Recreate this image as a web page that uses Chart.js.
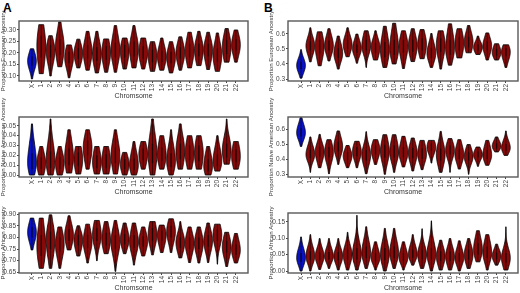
<!DOCTYPE html>
<html>
<head>
<meta charset="utf-8">
<script src="https://cdn.jsdelivr.net/npm/chart.js"></script>
<style>
  body { margin: 0; width: 520px; height: 293px; background: #fff; position: relative; overflow: hidden;
         font-family: "Liberation Sans", Arial, sans-serif; }
  canvas { position: absolute; }
  .tag { position: absolute; font-weight: bold; font-size: 12px; line-height: 12px; }
</style>
</head>
<body>
<div class="tag" style="left:3px;top:2px">A</div>
<div class="tag" style="left:264px;top:2px">B</div>
<canvas id="aEur" width="260" height="101" style="left:0;top:0"></canvas>
<canvas id="aNat" width="260" height="101" style="left:0;top:96px"></canvas>
<canvas id="aAfr" width="260" height="101" style="left:0;top:192px"></canvas>
<canvas id="bEur" width="260" height="101" style="left:260px;top:0"></canvas>
<canvas id="bNat" width="260" height="101" style="left:260px;top:96px"></canvas>
<canvas id="bAfr" width="260" height="101" style="left:260px;top:192px"></canvas>
<script>
// chromosome categories
const chromosomes = ['X', '1', '2', '3', '4', '5', '6', '7', '8', '9', '10', '11',
  '12', '13', '14', '15', '16', '17', '18', '19', '20', '21', '22'];

// y tick values per panel
const ticksEurA = [0.10, 0.15, 0.20, 0.25, 0.30];
const ticksNatA = [0.00, 0.01, 0.02, 0.03, 0.04, 0.05];
const ticksAfrA = [0.65, 0.70, 0.75, 0.80, 0.85, 0.90];
const ticksEurB = [0.3, 0.4, 0.5, 0.6];
const ticksNatB = [0.3, 0.4, 0.5, 0.6];
const ticksAfrB = [0.00, 0.05, 0.10, 0.15];

// each violin: [min, q1, median, q3, max]
const eurA = [
  [0.087, 0.145, 0.165, 0.185, 0.218], [0.110, 0.18, 0.23, 0.275, 0.323], [0.100, 0.18, 0.21, 0.235, 0.275],
  [0.140, 0.19, 0.225, 0.26, 0.335], [0.092, 0.155, 0.18, 0.205, 0.235], [0.135, 0.175, 0.198, 0.22, 0.26],
  [0.125, 0.175, 0.205, 0.235, 0.294], [0.113, 0.165, 0.195, 0.225, 0.294], [0.116, 0.17, 0.20, 0.23, 0.261],
  [0.116, 0.18, 0.21, 0.245, 0.319], [0.130, 0.18, 0.21, 0.235, 0.265], [0.135, 0.185, 0.22, 0.25, 0.319],
  [0.130, 0.175, 0.20, 0.23, 0.265], [0.120, 0.16, 0.19, 0.215, 0.249], [0.125, 0.16, 0.185, 0.21, 0.265],
  [0.113, 0.155, 0.18, 0.205, 0.249], [0.125, 0.175, 0.20, 0.225, 0.27], [0.135, 0.18, 0.21, 0.24, 0.29],
  [0.145, 0.185, 0.215, 0.24, 0.294], [0.128, 0.185, 0.215, 0.24, 0.29], [0.120, 0.16, 0.19, 0.22, 0.287],
  [0.160, 0.195, 0.225, 0.255, 0.306], [0.160, 0.21, 0.235, 0.26, 0.30]
];
const natA = [
  [0, 0.006, 0.012, 0.022, 0.052], [0, 0.006, 0.012, 0.018, 0.029], [0, 0.007, 0.014, 0.024, 0.057],
  [0, 0.006, 0.012, 0.018, 0.029], [0.002, 0.01, 0.018, 0.027, 0.046], [0.001, 0.009, 0.016, 0.023, 0.029],
  [0.006, 0.02, 0.028, 0.035, 0.046], [0.001, 0.007, 0.013, 0.02, 0.029], [0.001, 0.007, 0.014, 0.021, 0.029],
  [0.001, 0.012, 0.02, 0.028, 0.046], [0, 0.006, 0.011, 0.016, 0.023], [0, 0.005, 0.01, 0.017, 0.034],
  [0.006, 0.015, 0.021, 0.027, 0.034], [0, 0.012, 0.022, 0.032, 0.057], [0.006, 0.014, 0.02, 0.028, 0.04],
  [0, 0.008, 0.014, 0.022, 0.046], [0.006, 0.016, 0.024, 0.032, 0.052], [0.006, 0.015, 0.022, 0.03, 0.04],
  [0.006, 0.014, 0.022, 0.03, 0.04], [0, 0.004, 0.009, 0.016, 0.029], [0.004, 0.009, 0.014, 0.021, 0.04],
  [0.011, 0.018, 0.025, 0.032, 0.057], [0.006, 0.013, 0.019, 0.026, 0.034]
];
const afrA = [
  [0.746, 0.80, 0.822, 0.845, 0.883], [0.667, 0.72, 0.76, 0.81, 0.883], [0.667, 0.75, 0.79, 0.825, 0.897],
  [0.667, 0.74, 0.77, 0.80, 0.845], [0.746, 0.785, 0.81, 0.835, 0.893], [0.72, 0.765, 0.79, 0.81, 0.85],
  [0.69, 0.755, 0.78, 0.81, 0.857], [0.70, 0.785, 0.81, 0.84, 0.873], [0.73, 0.765, 0.79, 0.82, 0.868],
  [0.654, 0.75, 0.78, 0.81, 0.873], [0.73, 0.77, 0.79, 0.815, 0.862], [0.681, 0.755, 0.78, 0.81, 0.862],
  [0.72, 0.76, 0.782, 0.805, 0.845], [0.725, 0.785, 0.81, 0.84, 0.868], [0.735, 0.785, 0.81, 0.83, 0.853],
  [0.735, 0.80, 0.825, 0.85, 0.88], [0.712, 0.755, 0.778, 0.80, 0.868], [0.692, 0.75, 0.775, 0.80, 0.845],
  [0.69, 0.75, 0.775, 0.80, 0.845], [0.692, 0.76, 0.785, 0.81, 0.862], [0.685, 0.785, 0.81, 0.835, 0.857],
  [0.675, 0.735, 0.76, 0.785, 0.822], [0.69, 0.725, 0.745, 0.77, 0.817]
];
const eurB = [
  [0.306, 0.365, 0.39, 0.415, 0.495], [0.414, 0.49, 0.52, 0.55, 0.64], [0.388, 0.47, 0.515, 0.56, 0.613],
  [0.42, 0.49, 0.52, 0.555, 0.634], [0.366, 0.44, 0.47, 0.505, 0.585], [0.448, 0.50, 0.53, 0.56, 0.64],
  [0.405, 0.475, 0.50, 0.53, 0.598], [0.377, 0.49, 0.52, 0.56, 0.62], [0.426, 0.475, 0.51, 0.54, 0.62],
  [0.377, 0.445, 0.49, 0.545, 0.65], [0.40, 0.46, 0.50, 0.56, 0.67], [0.37, 0.475, 0.52, 0.56, 0.62],
  [0.416, 0.48, 0.52, 0.56, 0.634], [0.435, 0.49, 0.53, 0.57, 0.628], [0.377, 0.44, 0.47, 0.505, 0.602],
  [0.366, 0.48, 0.525, 0.57, 0.62], [0.392, 0.46, 0.50, 0.56, 0.666], [0.44, 0.49, 0.535, 0.58, 0.634],
  [0.474, 0.51, 0.545, 0.58, 0.655], [0.463, 0.49, 0.51, 0.53, 0.585], [0.426, 0.49, 0.52, 0.55, 0.606],
  [0.426, 0.455, 0.475, 0.50, 0.534], [0.377, 0.45, 0.48, 0.505, 0.527]
];
const natB = [
  [0.484, 0.55, 0.575, 0.605, 0.676], [0.311, 0.405, 0.43, 0.46, 0.547], [0.342, 0.415, 0.45, 0.48, 0.564],
  [0.302, 0.41, 0.445, 0.48, 0.529], [0.364, 0.45, 0.48, 0.515, 0.587], [0.342, 0.395, 0.42, 0.445, 0.49],
  [0.342, 0.42, 0.45, 0.48, 0.518], [0.302, 0.39, 0.425, 0.46, 0.582], [0.364, 0.43, 0.46, 0.49, 0.529],
  [0.298, 0.41, 0.45, 0.495, 0.562], [0.311, 0.41, 0.445, 0.49, 0.562], [0.347, 0.41, 0.44, 0.48, 0.551],
  [0.32, 0.405, 0.44, 0.475, 0.54], [0.329, 0.40, 0.43, 0.47, 0.524], [0.373, 0.455, 0.48, 0.505, 0.524],
  [0.311, 0.39, 0.43, 0.47, 0.584], [0.311, 0.43, 0.46, 0.49, 0.536], [0.333, 0.40, 0.43, 0.465, 0.529],
  [0.298, 0.39, 0.415, 0.445, 0.496], [0.351, 0.41, 0.43, 0.45, 0.48], [0.358, 0.40, 0.425, 0.46, 0.524],
  [0.447, 0.47, 0.485, 0.505, 0.547], [0.424, 0.455, 0.475, 0.50, 0.587]
];
const afrB = [
  [0, 0.028, 0.04, 0.055, 0.104], [0, 0.033, 0.045, 0.06, 0.111], [0.005, 0.033, 0.045, 0.058, 0.099],
  [0.008, 0.035, 0.045, 0.058, 0.099], [0.003, 0.033, 0.045, 0.058, 0.099], [0.003, 0.035, 0.05, 0.065, 0.118],
  [0.003, 0.035, 0.05, 0.07, 0.17], [0.008, 0.04, 0.055, 0.075, 0.135], [0.003, 0.03, 0.04, 0.055, 0.089],
  [0, 0.033, 0.05, 0.07, 0.13], [0.008, 0.04, 0.055, 0.075, 0.13], [0.003, 0.03, 0.04, 0.055, 0.089],
  [0.018, 0.04, 0.05, 0.065, 0.111], [0.008, 0.035, 0.05, 0.065, 0.129], [0, 0.035, 0.05, 0.07, 0.153],
  [0.003, 0.03, 0.045, 0.06, 0.094], [0.003, 0.03, 0.045, 0.06, 0.099], [0, 0.028, 0.04, 0.055, 0.092],
  [0.008, 0.035, 0.05, 0.065, 0.099], [0.028, 0.05, 0.065, 0.085, 0.123], [0.003, 0.04, 0.055, 0.075, 0.111],
  [0.018, 0.036, 0.045, 0.056, 0.082], [0.003, 0.025, 0.04, 0.055, 0.135]
];

const RED = '#870a0a';
const BLUE = '#0a12c6';
const HALF = 0.47; // max half width of a violin, in category units

// draws each violin from its summary through the chart's scales
const violinPlugin = {
  id: 'violins',
  afterDatasetsDraw(chart) {
    const { ctx, chartArea } = chart;
    const xs = chart.scales.x, ys = chart.scales.y;
    const rows = chart.data.datasets[0].summary;
    ctx.save();
    ctx.beginPath();
    ctx.rect(chartArea.left, chartArea.top, chartArea.right - chartArea.left, chartArea.bottom - chartArea.top);
    ctx.clip();
    rows.forEach((r, i) => {
      const [lo, q1, med, q3, hi] = r;
      const sLo = 1.3 * Math.max(med - q1, 1e-6) / 0.674, sHi = 1.3 * Math.max(q3 - med, 1e-6) / 0.674;
      const n = 48, pts = [];
      for (let k = 0; k <= n; k++) {
        const y = lo + (hi - lo) * k / n;
        const s = y < med ? sLo : sHi;
        pts.push([y, HALF * Math.exp(-0.5 * Math.pow((y - med) / s, 2))]);
      }
      ctx.beginPath();
      pts.forEach(([y, w], k) => {
        const px = xs.getPixelForValue(i + w), py = ys.getPixelForValue(y);
        if (k) ctx.lineTo(px, py); else ctx.moveTo(px, py);
      });
      for (let k = n; k >= 0; k--) {
        const [y, w] = pts[k];
        ctx.lineTo(xs.getPixelForValue(i - w), ys.getPixelForValue(y));
      }
      ctx.closePath();
      ctx.fillStyle = i === 0 ? BLUE : RED;
      ctx.fill();
      ctx.strokeStyle = '#000';
      ctx.lineWidth = 0.8;
      ctx.stroke();
      // thin inner box plot
      const cx = xs.getPixelForValue(i);
      ctx.beginPath();
      ctx.moveTo(cx, ys.getPixelForValue(lo));
      ctx.lineTo(cx, ys.getPixelForValue(hi));
      ctx.strokeStyle = 'rgba(0,0,0,0.75)';
      ctx.lineWidth = 0.7;
      ctx.stroke();
      ctx.fillStyle = 'rgba(0,0,0,0.55)';
      const top = ys.getPixelForValue(q3);
      ctx.fillRect(cx - 0.7, top, 1.4, ys.getPixelForValue(q1) - top);
    });
    ctx.restore();
  }
};

const framePlugin = {
  id: 'frame',
  afterDraw(chart) {
    const { ctx, chartArea: a } = chart;
    ctx.save();
    ctx.strokeStyle = '#595959';
    ctx.lineWidth = 1.4;
    ctx.strokeRect(a.left, a.top, a.right - a.left, a.bottom - a.top);
    ctx.restore();
  }
};

const tickFont = { family: 'Liberation Sans, Arial, sans-serif', size: 6.5 };

function makePanel(id, rows, yTicks, title, yMin, yMax, decimals, axisWidth, titlePad, rightPad) {
  new Chart(document.getElementById(id), {
    type: 'scatter',
    data: {
      datasets: [{
        data: rows.map((r, i) => ({ x: i, y: r[2] })),
        summary: rows,
        pointRadius: 0
      }]
    },
    options: {
      responsive: false,
      animation: false,
      layout: { padding: { top: 21, left: 0, right: rightPad, bottom: 0 } },
      plugins: { legend: { display: false }, tooltip: { enabled: false } },
      scales: {
        x: {
          type: 'linear',
          min: -1.4,
          max: 23.3,
          afterBuildTicks: (s) => { s.ticks = chromosomes.map((c, i) => ({ value: i })); },
          afterFit: (s) => { s.height = 20; },
          ticks: {
            callback: (v) => chromosomes[v],
            minRotation: 90, maxRotation: 90, autoSkip: false,
            padding: 1, color: '#444', font: tickFont
          },
          grid: { drawOnChartArea: false, tickLength: 2, color: '#444' },
          border: { display: false },
          title: {
            display: true, text: 'Chromsome', color: '#333',
            font: { family: 'Liberation Sans, Arial, sans-serif', size: 7 },
            padding: { top: 0, bottom: 1 }
          }
        },
        y: {
          min: yMin,
          max: yMax,
          afterBuildTicks: (s) => { s.ticks = yTicks.map((v) => ({ value: v })); },
          afterFit: (s) => { s.width = axisWidth; },
          ticks: {
            callback: (v) => v.toFixed(decimals),
            padding: 1, color: '#444', font: tickFont
          },
          grid: { drawOnChartArea: false, tickLength: 2, color: '#444' },
          border: { display: false },
          title: {
            display: true, text: title, color: '#333',
            font: { family: 'Liberation Sans, Arial, sans-serif', size: 6 },
            padding: { top: titlePad, bottom: 0 }
          }
        }
      }
    },
    plugins: [violinPlugin, framePlugin]
  });
}

makePanel('aEur', eurA, ticksEurA, 'Proportion European Ancestry', 0.078, 0.339, 2, 19, 0, 12);
makePanel('aNat', natA, ticksNatA, 'Proportion Native American Ancestry', -0.002, 0.059, 2, 19, 0, 12);
makePanel('aAfr', afrA, ticksAfrA, 'Proportion African Ancestry', 0.647, 0.905, 2, 19, 0, 12);
makePanel('bEur', eurB, ticksEurB, 'Proportion European Ancestry', 0.287, 0.685, 1, 28, 8, 2);
makePanel('bNat', natB, ticksNatB, 'Proportion Native American Ancestry', 0.28, 0.68, 1, 28, 8, 2);
makePanel('bAfr', afrB, ticksAfrB, 'Proportion African Ancestry', -0.006, 0.177, 2, 28, 8, 2);
</script>
</body>
</html>
